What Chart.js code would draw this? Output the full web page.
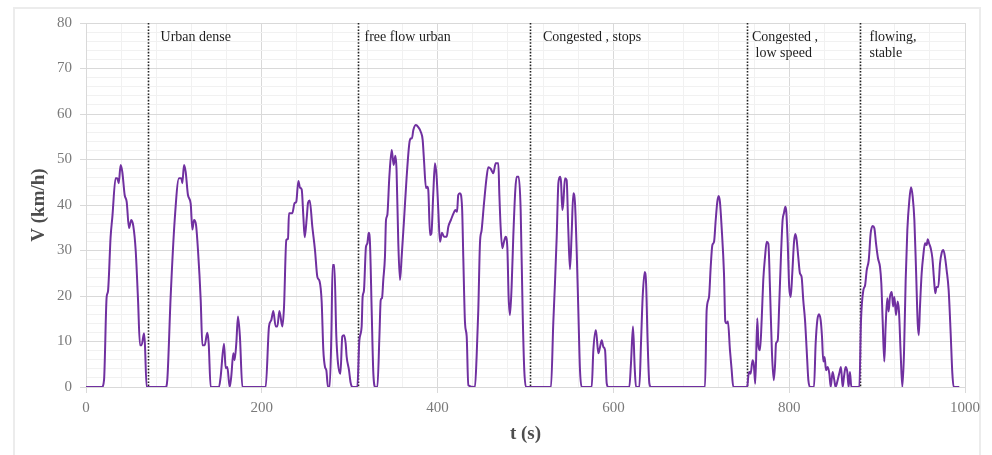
<!DOCTYPE html>
<html>
<head>
<meta charset="utf-8">
<script src="https://cdn.jsdelivr.net/npm/chart.js@4/dist/chart.umd.min.js"></script>
<style>
  html, body { margin: 0; padding: 0; background: #fff; }
  #wrap { position: relative; width: 992px; height: 455px; overflow: hidden; }
  #frame { position: absolute; left: 13px; top: 7px; width: 968px; height: 470px; border: 2px solid #ececec; box-sizing: border-box; }
  canvas { position: absolute; left: 0; top: 0; }
</style>
</head>
<body>
<div id="wrap">
  <div id="frame"></div>
  <canvas id="speedChart" width="992" height="455"></canvas>
</div>
<script>
// Speed trace, [t (s), V (km/h)], split by driving phase
const startPhase = [
  [0,0],[18,0],[20.5,1.5],[23.5,19.8],[25,21],[28,33],[30,37.4],[33.7,45.9],[35.6,45.9],[37.2,44.8],
  [39.4,48.8],[41.3,47.3],[44,42.2],[46.3,40.7],[48.9,34.9],[51.5,36.7],[53.8,35.4],[56.5,30.1],
  [59.2,19.1],[61.4,9.2],[63.3,9.2],[66,11.8],[67,9.5],[69,0]
];
const urbanDense = [
  [90.6,0],[92.5,1.6],[96.3,19.8],[100.9,36.7],[105.8,45.9],[108.5,45.9],[109.6,44.8],[111.5,48.8],
  [113.4,47.3],[116,42.2],[119.1,40.3],[121,34.6],[122.9,36.7],[125.2,35.6],[127.4,30.1],[130.5,19.1],
  [132.4,9.2],[135,9.2],[138,11.9],[139.6,9.5],[141.8,0],
  [151.3,0],[153.2,2.3],[157,9.5],[158.9,4.1],[160.8,4.4],[163.4,0],[165.3,2.4],[167.6,7.4],[169,5.9],
  [171,9.6],[172.9,15.5],[175.1,11.1],[177.9,0],
  [204.4,0],[208.2,13.3],[210.8,14.7],[213.1,16.7],[215.8,13.3],[217.7,13.3],[220,16.7],[223.4,13.3],
  [225.3,17.7],[227.9,32.3],[229.8,32.6],[230.9,38.2],[234.7,38.2],[237.3,40.4],[239.2,40.7],[241.6,45.3],
  [243.5,43.8],[245.4,43.4],[247.3,37.4],[248.8,32.9],[251.1,37.1],[252.6,40.5],[254.5,41],[257.5,35.2],
  [260.5,30.1],[263.2,24.2],[265.8,23.2],[268.1,18.8],[270,8.1],[271.9,4.4],[273.4,3.7],[275.3,0],
  [277.2,0],[279.1,11.1],[280.6,26.8],[282.5,26.8],[284.8,11.1],[286.7,5.2],[289.4,2.9],[291.6,11.1],
  [293.5,11.4],[295.4,9.6],[296.5,6.7],[299.2,3.7],[301.1,0.9],[303,0],[308.7,0]
];
const freeFlowUrban = [
  [311,10.3],[313.6,13.3],[314.7,19.8],[316.2,21.2],[318.5,30.8],[320,31.5],[321.6,33.9],[323.1,31.5],
  [325,16.9],[326.9,3],[329.2,0],[331.5,0],[333.8,11.1],[335.3,19.1],[336.8,19.6],[338.2,23.5],
  [340.1,28.6],[341.3,36.7],[342.8,37.8],[345.1,46.2],[347.8,52.1],[350,48.8],[352,50.8],[353.3,47.7],
  [355.3,31.6],[357.2,23.5],[359.1,28.6],[361.8,36.7],[364.8,46.2],[367.8,53.5],[369.3,54.6],[370.8,54.6],
  [372.4,56.5],[375.4,57.6],[378,57.1],[380.8,56.1],[383,54.3],[384.5,49.9],[386.8,43.7],[388.3,44],
  [389.4,43.3],[391.4,33.4],[392.9,33.7],[395.1,42.6],[397,49.2],[398.9,46.2],[400.8,38.9],[402.7,31.9],
  [405,33.9],[407.3,33],[410.3,33],[412.2,35.2],[415.3,36.8],[418.2,38.2],[420.1,38.9],[422.1,38.5],
  [423.5,42.2],[425.4,42.6],[427.8,39.6],[429.3,27.9],[431.2,14],[433.1,11.1],[434.9,0.4],[442.5,0],
  [444.4,6.7],[446.3,16.9],[448.2,31.6],[450.1,34.5],[452.8,40.4],[455.8,46.2],[457.7,48.3],[460.3,48],
  [463.4,47],[466.1,49.2],[469.1,49.2],[470.2,42.6],[471.7,35.2],[473.6,30.5],[475.5,31.9],[477.4,33],
  [479.3,30.8],[480.8,19.8],[482.3,15.8],[484.2,22],[486.1,33],[488.4,43.3],[489.9,46.2],[492.2,46.2],
  [494.5,38.9],[496.7,16.9],[498.6,3.7],[500.6,0]
];
const congestedStops = [
  [529,0],[531.6,14],[533.5,22.7],[535.5,33],[537.4,44.8],[539.3,46.2],[540.4,45.1],[541.9,38.9],
  [543,40.4],[544.9,45.9],[546.8,45.5],[548.7,34.5],[550.6,25.9],[552.5,33.7],[554.4,42.6],[556.3,40.4],
  [558.2,30.1],[560.1,16.9],[562,3.7],[563.9,0],[575.3,0],[577.2,8.1],[579.9,12.5],[581,11],[582.9,7.4],
  [584.8,8.8],[586.7,10.3],[588.6,8.8],[590.5,8.1],[592.4,0.8],[594.3,0],[618.1,0],[620,5.2],[622.3,13.3],
  [624.2,4.4],[625.7,0],[629.5,0],[631.4,9.6],[633.3,19.8],[635.6,25.3],[637.2,22.7],[639,9.6],
  [640.9,0.8],[642.8,0],[704.2,0],[706.1,16.9],[708.8,19.8],[710.7,26.4],[712.6,31.2],[714.5,31.9],
  [716.4,36.7],[718.2,40.7],[719.7,42],[721.2,40.7],[723.1,35.2],[725.8,25],[727.3,14.4],[728.8,14],
  [730.3,14.4],[732.6,8.1],[734.5,3.8],[736.4,0]
];
const congestedLowSpeed = [
  [752.3,0],[753.4,2.3],[754.6,3.3],[756.1,2.9],[758.3,5.9],[759.8,4.8],[761.4,0.7],[763.7,15.1],
  [765.1,8.9],[766.8,8.1],[768.7,14.8],[770.5,23.5],[772.5,28.6],[774.4,31.9],[776.3,31.5],[778.2,21.3],
  [780.4,7.4],[782.4,1.5],[783.9,4.8],[785,9.6],[786.9,10.2],[788.7,18.4],[790.6,28.6],[792.5,36.7],
  [794,38.2],[795.6,39.6],[796.7,38.5],[798.2,32.3],[800,22],[801.7,19.8],[803.5,25],[805.5,31.9],
  [807,33.6],[808.5,32.3],[810.3,28.6],[812.2,25],[814.1,24.2],[816,19.1],[818,14.7],[819.9,8.1],
  [821.8,1.5],[823.7,0],[828.2,0],[830.1,9.6],[832,14.7],[833.9,16],[835.8,14.7],[837.3,11.1],
  [838.8,5.6],[840.3,6.6],[841.9,3.7],[843.8,4.4],[845.7,2.9],[847.2,0],[849.4,3.3],[851.3,1.5],
  [852.8,0],[855.1,1.5],[857,3],[858.9,4.4],[860.8,0],[862.3,2.2],[864.2,4.4],[866.1,3.3],[867.6,0],
  [869.1,3.3],[870.7,0],[879.8,0]
];
const flowingStable = [
  [881.7,14.7],[884.4,21.3],[886.3,22.3],[888.2,25.7],[890.5,27.9],[892.7,33.8],[895,35.4],[896.9,34.9],
  [898.8,31.5],[901,28.3],[903.3,26.4],[904.8,22.8],[906.3,14.7],[908.2,5.6],[909.7,13.3],[911.6,19.5],
  [913.1,16.6],[914.6,19.8],[916.7,20.9],[918.2,17.7],[919.7,19.8],[921.5,15.8],[923.4,18.8],[924.9,16.6],
  [926.8,7.4],[928.7,0],[930.6,7.4],[932.5,23.5],[934.4,34.5],[936.7,41.1],[938.6,43.9],[940.5,41.8],
  [942.4,36.7],[944.3,25.7],[946.2,14],[947.4,11.4],[948.8,17.7],[950.7,25],[952.6,29],[954.5,31.6],
  [956.4,31.2],[957.6,32.5],[959.1,31.6],[961,30.5],[962.9,28.3],[964.8,23.5],[966.2,20.6],[967.7,22],
  [969.6,22],[971.6,27.2],[973.5,29.5],[975.4,30.1],[977.2,28.6],[979.1,25.7],[981.4,21.3],[983.7,11.8],
  [985.6,3],[987.1,0],[993.5,0]
];

// phase boundaries (s) and their captions
const phaseBounds = [70, 310, 505, 752, 880];
const phaseLabels = [
  ['Urban dense'],
  ['free flow urban'],
  ['Congested , stops'],
  ['Congested ,', ' low speed'],
  ['flowing,', 'stable']
];

const speedTrace = [].concat(startPhase, urbanDense, freeFlowUrban, congestedStops, congestedLowSpeed, flowingStable)
  .map(([t, v]) => ({ x: t, y: v }));

const serif = "'Liberation Serif', 'DejaVu Serif', serif";
const majorGrid = '#d9d9d9';
const minorGrid = '#f1f1f1';

// dotted phase separators + captions
const phasePlugin = {
  id: 'phases',
  beforeDatasetsDraw(chart, args, opts) {
    const { ctx, chartArea, scales: { x } } = chart;
    ctx.save();
    ctx.strokeStyle = '#222';
    ctx.lineWidth = 1.6;
    ctx.setLineDash([1.6, 1.6]);
    phaseBounds.forEach(t => {
      const px = Math.round(x.getPixelForValue(t)) + 0.5;
      ctx.beginPath();
      ctx.moveTo(px, chartArea.top);
      ctx.lineTo(px, chartArea.bottom);
      ctx.stroke();
    });
    ctx.restore();
  },
  afterDatasetsDraw(chart, args, opts) {
    const { ctx, chartArea, scales: { x } } = chart;
    ctx.save();
    ctx.font = '14px ' + serif;
    ctx.fillStyle = '#1e1e1e';
    ctx.textBaseline = 'alphabetic';
    ctx.textAlign = 'left';
    phaseLabels.forEach((lines, i) => {
      const px = x.getPixelForValue(phaseBounds[i]) + opts.offsets[i];
      lines.forEach((line, j) => {
        ctx.fillText(line, px, chartArea.top + 17.5 + j * 16.5);
      });
    });
    ctx.restore();
  }
};

new Chart(document.getElementById('speedChart'), {
  type: 'line',
  data: {
    datasets: [{
      label: 'V',
      data: speedTrace,
      borderColor: '#7030A0',
      borderWidth: 2,
      pointRadius: 0,
      fill: false,
      cubicInterpolationMode: 'monotone'
    }]
  },
  options: {
    responsive: false,
    animation: false,
    layout: { padding: { left: 13, top: 23, right: 27, bottom: 0 } },
    plugins: {
      legend: { display: false },
      tooltip: { enabled: false },
      phases: { offsets: [13, 6, 13, 5, 10] }
    },
    scales: {
      x: {
        type: 'linear',
        min: 0,
        max: 1000,
        afterFit(scale) { scale.height = 68; },
        grid: {
          color: c => (c.tick && c.tick.value % 200 === 0) ? majorGrid : minorGrid,
          tickColor: c => (c.tick && c.tick.value % 200 === 0) ? majorGrid : 'rgba(0,0,0,0)',
          tickLength: 6
        },
        border: { color: majorGrid },
        ticks: {
          stepSize: 40,
          autoSkip: false,
          maxRotation: 0,
          padding: 6,
          color: '#7a7a7a',
          font: { family: serif, size: 15 },
          callback: v => v % 200 === 0 ? String(v) : ''
        },
        title: {
          display: true,
          text: 't (s)',
          color: '#4d4d4d',
          font: { family: serif, size: 19, weight: 'bold' },
          padding: { top: 0, bottom: 10 }
        }
      },
      y: {
        min: 0,
        max: 80,
        afterFit(scale) { scale.width = 73; },
        grid: {
          color: c => (c.tick && c.tick.value % 10 === 0) ? majorGrid : minorGrid,
          tickColor: c => (c.tick && c.tick.value % 10 === 0) ? majorGrid : 'rgba(0,0,0,0)',
          tickLength: 6
        },
        border: { color: majorGrid },
        ticks: {
          stepSize: 2,
          autoSkip: false,
          padding: 8,
          color: '#7a7a7a',
          font: { family: serif, size: 15 },
          callback: v => v % 10 === 0 ? String(v) : ''
        },
        title: {
          display: true,
          text: 'V (km/h)',
          color: '#4d4d4d',
          font: { family: serif, size: 19, weight: 'bold' },
          padding: { top: 15, bottom: 0 }
        }
      }
    }
  },
  plugins: [phasePlugin]
});
</script>
</body>
</html>
